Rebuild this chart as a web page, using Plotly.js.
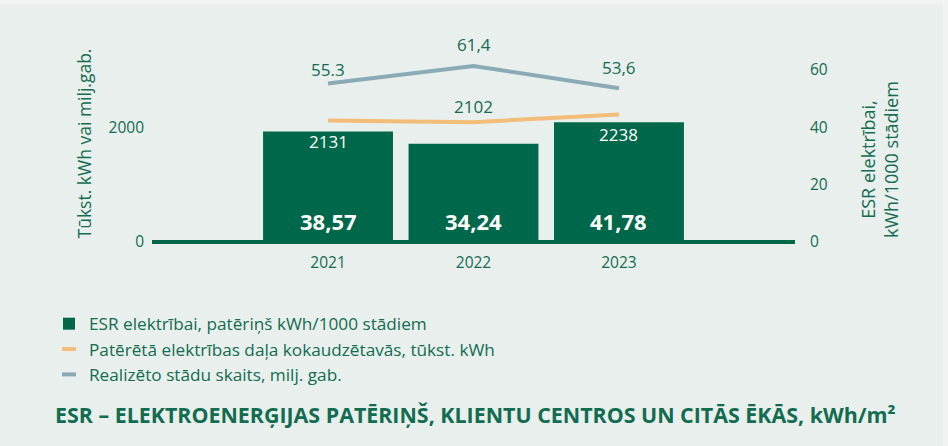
<!DOCTYPE html>
<html>
<head>
<meta charset="utf-8">
<script src="https://cdn.plot.ly/plotly-3.0.1.min.js"></script>
<style>
  html, body { margin: 0; padding: 0; background: #eff3f1; }
  #chart { width: 948px; height: 446px; }
</style>
</head>
<body>
<div id="chart"></div>
<script>
// Data
const years = ['2021', '2022', '2023'];
const esrPerSeedling = [38.57, 34.24, 41.78];          // kWh/1000 stādiem (bars)
const esrLabels = ['38,57', '34,24', '41,78'];
const nurseryPower = [2131, 2102, 2238];               // tūkst. kWh
const nurseryLabels = ['2131', '2102', '2238'];
const seedlingsSold = [55.3, 61.4, 53.6];              // milj. gab.
const seedlingsLabels = ['55.3', '61,4', '53,6'];

const green = '#00684a';
const textGreen = '#126c4f';
const orange = '#f1bd78';
const blue = '#8aabb6';
const font = '"Open Sans", Lato, sans-serif';

// plot area in pixels: x 152..795, y 45..242
const px = p => (p - 152) / 643;
const py = p => (242 - p) / 197;

const bars = {
    x: years,
    y: esrPerSeedling,
    name: 'ESR elektrībai, patēriņš kWh/1000 stādiem',
    type: 'bar',
    yaxis: 'y2',
    marker: { color: green },
    hoverinfo: 'skip'
};

const power = {
    x: years,
    y: nurseryPower,
    name: 'Patērētā elektrības daļa kokaudzētavās, tūkst. kWh',
    type: 'scatter',
    mode: 'lines',
    line: { color: orange, width: 4 },
    showlegend: false,
    cliponaxis: false
};

const seedlings = {
    x: years,
    y: seedlingsSold,
    name: 'Realizēto stādu skaits, milj. gab.',
    type: 'scatter',
    mode: 'lines',
    yaxis: 'y2',
    line: { color: blue, width: 4 },
    showlegend: false,
    cliponaxis: false
};

// short dash symbols for the legend, like the original
function legendKey(trace) {
    return {
        x: [null], y: [null],
        name: trace.name,
        type: 'scatter',
        mode: 'markers',
        marker: { symbol: 'line-ew', size: 10, line: { width: 4, color: trace.line.color } }
    };
}

const annotations = [];

years.forEach((yr, i) => {
    // value inside bar, bottom
    annotations.push({
        x: i, y: 0, xref: 'x', yref: 'y2',
        text: '<b>' + esrLabels[i] + '</b>',
        showarrow: false, yshift: 21,
        font: { family: font, size: 22, color: '#ffffff' }
    });
    // seedlings label above blue line
    annotations.push({
        x: i, y: seedlingsSold[i], xref: 'x', yref: 'y2',
        text: seedlingsLabels[i],
        showarrow: false, yshift: i === 0 ? 14 : 21,
        font: { family: font, size: 17, color: textGreen }
    });
    // power label: inside bar for 2021/2023, above line for 2022
    if (i === 1) {
        annotations.push({
            x: i, y: nurseryPower[i], xref: 'x', yref: 'y',
            text: nurseryLabels[i],
            showarrow: false, yshift: 16,
            font: { family: font, size: 17, color: textGreen }
        });
    } else {
        annotations.push({
            x: i, y: esrPerSeedling[i], xref: 'x', yref: 'y2',
            text: nurseryLabels[i],
            showarrow: false, yshift: i === 0 ? -10 : -12,
            font: { family: font, size: 17, color: '#ffffff' }
        });
    }
});

// right axis title, placed like the original
annotations.push({
    x: px(879), y: py(160), xref: 'paper', yref: 'paper',
    xanchor: 'center', yanchor: 'middle',
    text: 'ESR elektrībai,<br>kWh/1000 stādiem',
    textangle: -90,
    showarrow: false,
    font: { family: font, size: 18, color: textGreen }
});

// bottom heading
annotations.push({
    x: px(53), y: py(414), xref: 'paper', yref: 'paper',
    xanchor: 'left', yanchor: 'middle',
    text: '<b>ESR – ELEKTROENERĢIJAS PATĒRIŅŠ, KLIENTU CENTROS UN CITĀS ĒKĀS, kWh/m²</b>',
    showarrow: false,
    font: { family: font, size: 21.4, color: textGreen }
});

const layout = {
    width: 948,
    height: 446,
    margin: { l: 152, r: 153, t: 45, b: 204 },
    paper_bgcolor: '#e9efed',
    plot_bgcolor: 'rgba(0,0,0,0)',
    font: { family: font, color: textGreen, size: 13 },
    showlegend: true,
    bargap: 0.107,
    xaxis: {
        type: 'category',
        range: [-1.21, 3.21],
        showgrid: false,
        showline: false,
        ticks: '',
        ticklabelstandoff: 9,
        tickfont: { size: 15.5, color: textGreen },
        fixedrange: true
    },
    yaxis: {
        range: [0, 3456],
        tickvals: [0, 2000],
        showgrid: false,
        zeroline: true,
        zerolinecolor: green,
        zerolinewidth: 4,
        showline: false,
        ticks: '',
        ticklabelstandoff: 7,
        tickfont: { size: 15.5, color: textGreen },
        title: {
            text: 'Tūkst. kWh vai milj.gab.',
            font: { size: 17.5, color: textGreen },
            standoff: 12
        },
        automargin: false
    },
    yaxis2: {
        overlaying: 'y',
        side: 'right',
        range: [0, 68.7],
        tickvals: [0, 20, 40, 60],
        showgrid: false,
        zeroline: false,
        showline: false,
        ticks: '',
        ticklabelstandoff: 14,
        tickfont: { size: 15.5, color: textGreen },
        automargin: false
    },
    legend: {
        x: px(49), y: py(306),
        xanchor: 'left', yanchor: 'top',
        bgcolor: 'rgba(0,0,0,0)',
        font: { size: 17.2, color: textGreen },
        traceorder: 'normal',
        itemwidth: 30
    },
    annotations: annotations,
    shapes: [
        // lighter frame along top and right edge
        { type: 'rect', xref: 'paper', yref: 'paper', x0: px(0), x1: px(948), y0: py(4), y1: py(0),
          fillcolor: '#eff3f1', line: { width: 0 }, layer: 'below' },
        { type: 'rect', xref: 'paper', yref: 'paper', x0: px(943), x1: px(948), y0: py(446), y1: py(0),
          fillcolor: '#eff3f1', line: { width: 0 }, layer: 'below' }
    ]
};

Plotly.newPlot('chart', [bars, legendKey(power), legendKey(seedlings), power, seedlings], layout,
    { displayModeBar: false, staticPlot: true });
</script>
</body>
</html>
